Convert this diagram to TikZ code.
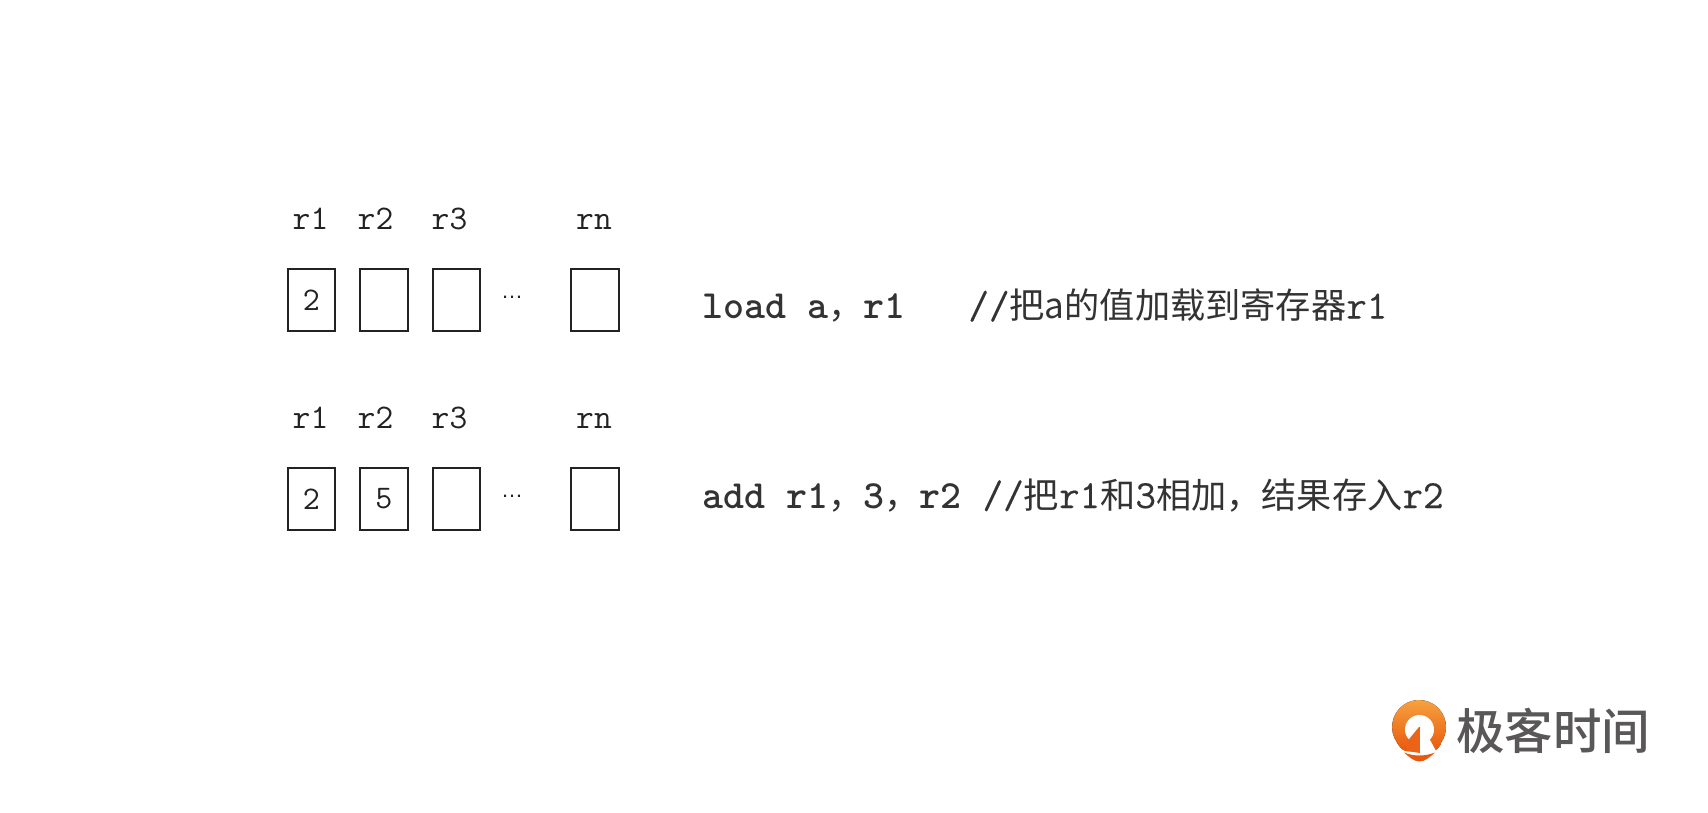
\documentclass[tikz,border=0pt]{standalone}
\usepackage{fontspec}
\setmainfont{Liberation Sans}
\newfontfamily\cjk{Noto Sans CJK SC}
\newfontfamily\cjkm{Noto Sans CJK SC Medium}
\newfontfamily\lmmid[FakeBold=0.35]{Latin Modern Mono}
\newfontfamily\lmlab{Latin Modern Mono}
\newcommand{\cj}[1]{{\cjk\mdseries\fontsize{35.2}{35.2}\selectfont #1}}
\definecolor{boxc}{HTML}{222222}
\definecolor{codec}{HTML}{333333}
\definecolor{logoc}{HTML}{595757}
\definecolor{orangetop}{HTML}{F6A23F}
\definecolor{orangebot}{HTML}{E9580F}
\tikzset{
  reg/.style={draw=boxc,line width=1.9pt,minimum width=47.5pt,minimum height=61.5pt,inner sep=0pt,anchor=north west,
     font=\lmlab\fontsize{33}{33}\selectfont,text=boxc},
  lab/.style={anchor=base,inner sep=0pt,font=\lmlab\fontsize{34.5}{34.5}\selectfont,text=boxc},
  dots/.style={anchor=base,inner sep=0pt,font=\fontsize{22}{22}\selectfont,text=boxc},
  code/.style={anchor=base west,inner sep=0pt,font=\ttfamily\fontsize{40}{40}\selectfont,text=codec},
  brand/.style={anchor=base west,inner sep=0pt,font=\cjkm\fontsize{48.5}{48.5}\selectfont,text=logoc}
}
\begin{document}
\begin{tikzpicture}[x=1pt,y=-1pt]
\useasboundingbox (0,0) rectangle (1708,812);
% row 1
\node[lab] (la1) at (310.5,229) {r1};
\node[lab] (la2) at (375.5,229) {r2};
\node[lab] (la3) at (449.5,229) {r3};
\node[lab] (lan) at (594,229) {rn};
\node[reg] (a1) at (286.6,268.4) {2};
\node[reg] (a2) at (359.1,268.4) {};
\node[reg] (a3) at (431.6,268.4) {};
\node[dots] (ad) at (512,298) {…};
\node[reg] (an) at (570.1,268.4) {};
\node[code] (c1) at (702,318.5) {\bfseries load a\cj{，}r1~~~\mdseries\lmmid //\cj{把a的值加载到寄存器}r1};
% row 2
\node[lab] (lb1) at (310.5,428) {r1};
\node[lab] (lb2) at (375.5,428) {r2};
\node[lab] (lb3) at (449.5,428) {r3};
\node[lab] (lbn) at (594,428) {rn};
\node[reg] (b1) at (286.6,467.4) {2};
\node[reg] (b2) at (359.1,467.4) {5};
\node[reg] (b3) at (431.6,467.4) {};
\node[dots] (bd) at (512,497) {…};
\node[reg] (bn) at (570.1,467.4) {};
\node[code] (c2) at (702,508) {\bfseries add r1\cj{，}3\cj{，}r2~\mdseries\lmmid //\cj{把}r1\cj{和}3\cj{相加，结果存入}r2};
% logo
\fill[top color=orangetop,bottom color=orangebot] (1419,700)
  arc[start angle=270,end angle=395,radius=27] .. controls (1441,745) and (1438,748) .. (1435,751)
  -- (1404,751) .. controls (1401,748) and (1398,745) .. (1397,742.5)
  arc[start angle=145,end angle=270,radius=27] -- cycle;
\fill[white] (1419.5,729.5) circle[radius=14.5];
\fill[orangebot!85!orangetop] (1419,727) -- (1410,738) -- (1407,741) -- (1407,751) -- (1420,753) -- (1420,727) -- cycle;
\fill[white] (1420,728) -- (1429,738) -- (1436,751) -- (1420,755) -- cycle;
\fill[white] (1402,749.5) .. controls (1410,755) and (1428,755) .. (1437,749.5) -- (1437,754) -- (1402,754) -- cycle;
\fill[orangebot] (1404,752.5) .. controls (1414,756.5) and (1425,756.5) .. (1435,752.5)
  .. controls (1430,757) and (1425,761.5) .. (1419.5,761.5) .. controls (1414,761.5) and (1409,757) .. (1404,752.5) -- cycle;
\node[brand] (logo) at (1456,749) {极客时间};
\end{tikzpicture}
\end{document}
